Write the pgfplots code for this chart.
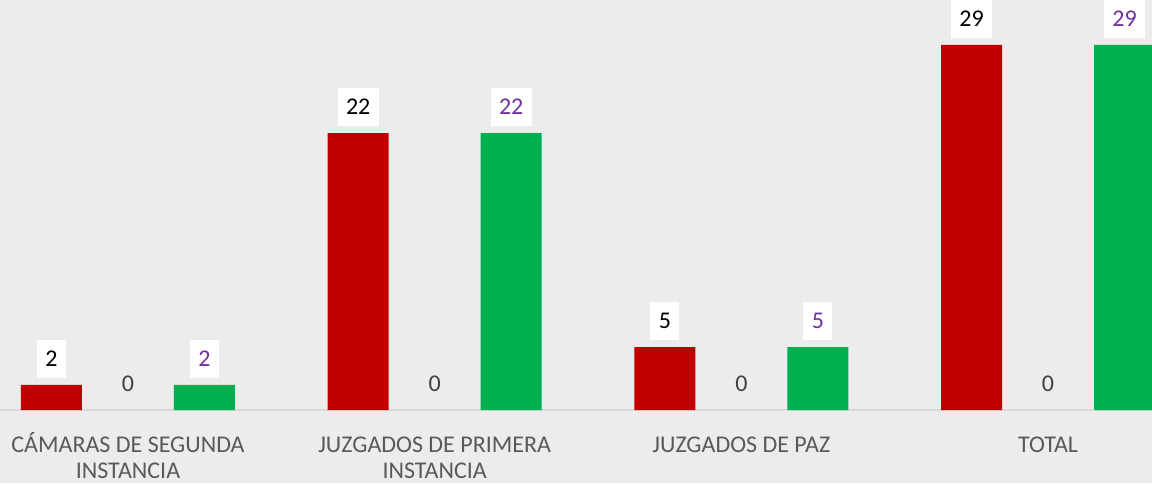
\documentclass[border=0pt]{standalone}
\usepackage{fontspec}
\setmainfont{Carlito}
\usepackage{pgfplots}
\pgfplotsset{compat=1.18}
\definecolor{bg}{HTML}{ECECEC}
\definecolor{barred}{HTML}{C00000}
\definecolor{bargreen}{HTML}{00B050}
\definecolor{lblpurple}{HTML}{7030A0}
\definecolor{txtgray}{HTML}{595959}
\definecolor{zerogray}{HTML}{404040}
\definecolor{axgray}{HTML}{D9D9D9}
\newcommand{\tl}{\rule{0pt}{21pt}}
\begin{document}
\begin{tikzpicture}
\begin{axis}[
  scale only axis, width=1152pt, height=483pt,
  xmin=-0.4173, xmax=3.339, ymin=-5.798, ymax=32.57,
  axis line style={draw=none}, major tick length=0pt,
  axis background/.style={fill=bg},
  xtick={0,1,2,3},
  xticklabels={{\tl CÁMARAS DE SEGUNDA\\INSTANCIA},{\tl JUZGADOS DE PRIMERA\\INSTANCIA},{\tl JUZGADOS DE PAZ},{\tl TOTAL}},
  ytick=\empty,
  xticklabel style={align=center, font=\fontsize{24}{26}\selectfont, text=txtgray, anchor=north, yshift=52pt, inner sep=0pt},
  ybar, bar width=61pt,
  clip=false,
  /pgf/number format/assume math mode=true,
  nodes near coords,
  nodes near coords style={font=\fontsize{24}{26}\selectfont, inner xsep=8.5pt, minimum height=38pt, anchor=south, yshift=7pt, inner ysep=0pt},
]
\draw[axgray, line width=1.5pt] (axis cs:-0.4173,0) -- (axis cs:3.339,0);
\addplot[draw=none, fill=barred, bar shift=-76.5pt,
  nodes near coords style={fill=white, text=black}]
  coordinates {(0,2) (1,22) (2,5) (3,29)};
\addplot[draw=none, fill=none, bar shift=0pt,
  nodes near coords style={text=zerogray}]
  coordinates {(0,0) (1,0) (2,0) (3,0)};
\addplot[draw=none, fill=bargreen, bar shift=76.5pt,
  nodes near coords style={fill=white, text=lblpurple}]
  coordinates {(0,2) (1,22) (2,5) (3,29)};
\end{axis}
\pgfresetboundingbox
\path[use as bounding box] (current axis.south west) rectangle (current axis.north east);
\end{tikzpicture}
\end{document}
